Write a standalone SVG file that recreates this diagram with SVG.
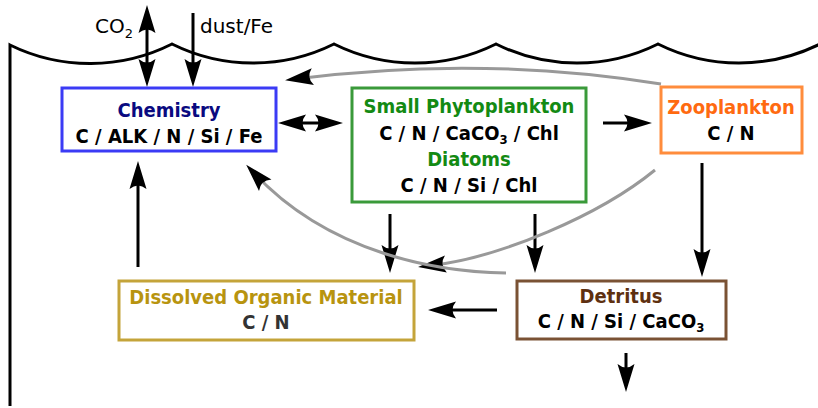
<svg xmlns="http://www.w3.org/2000/svg" width="818" height="408" viewBox="0 0 818 408">
<style>
.box{fill:#fff;stroke-width:3}
.t{font-family:"DejaVu Sans Condensed","DejaVu Sans",sans-serif;font-stretch:condensed;font-weight:bold;font-size:20px;text-anchor:middle}
.lab{font-family:"DejaVu Sans",Verdana,sans-serif;font-size:20px;fill:#000}
.arr{fill:none;stroke:#000;stroke-width:3;marker-end:url(#ah)}
.dbl{marker-start:url(#ah)}
.gr{fill:none;stroke:#999;stroke-width:3;marker-end:url(#ah)}
</style>
<defs>
<marker id="ah" markerUnits="userSpaceOnUse" orient="auto-start-reverse" refX="0" refY="0" markerWidth="40" markerHeight="20" overflow="visible">
<path d="M10,0 L-18,-8.5 Q-11,0 -18,8.5 Z" fill="#000"/>
</marker>
<linearGradient id="fade" x1="0" x2="1" y1="0" y2="0">
<stop offset="0" stop-color="#aaa"/>
<stop offset="1" stop-color="#fff"/>
</linearGradient>
</defs>

<g id="ocean">
<path d="M10,406 L10,45 A182,182 0 0 0 172,44 A182,182 0 0 0 334,44 A182,182 0 0 0 496,44 A182,182 0 0 0 658,44 A182,182 0 0 0 820,44" fill="none" stroke="#000" stroke-width="3"/>
<line x1="11" y1="406.5" x2="150" y2="406.5" stroke="url(#fade)" stroke-width="2"/>
<text class="lab" x="95" y="33">CO<tspan font-size="13" dy="5">2</tspan></text>
<text class="lab" x="200" y="33">dust/Fe</text>
</g>

<g id="connectors">
<line class="arr dbl" x1="147" y1="15" x2="147" y2="77"/>
<line class="arr" x1="193" y1="13" x2="193" y2="77"/>
<line class="arr dbl" x1="288" y1="123" x2="333" y2="123"/>
<line class="arr" x1="603" y1="123" x2="642" y2="123"/>
<line class="arr" x1="702" y1="163" x2="702" y2="267"/>
<line class="arr" x1="390" y1="214" x2="390" y2="263"/>
<line class="arr" x1="535" y1="214" x2="535" y2="263"/>
<line class="arr" x1="497" y1="310" x2="438" y2="310"/>
<line class="arr" x1="626" y1="353" x2="626" y2="382"/>
<line class="arr" x1="138" y1="267" x2="138" y2="171"/>
<path class="gr" d="M661,84 Q480,55 295,79"/>
<path class="gr" d="M655,170 C600,215 500,258 428,266"/>
<path class="gr" d="M506,273 C440,272 330,255 253,172"/>
</g>

<g id="chemistry">
<rect class="box" x="62" y="88" width="214" height="63" stroke="#3b3bf5"/>
<text class="t" x="169" y="117" fill="#0a0a80">Chemistry</text>
<text class="t" x="169" y="143" fill="#000">C / ALK / N / Si / Fe</text>
</g>

<g id="phytoplankton">
<rect class="box" x="352" y="88" width="234" height="114" stroke="#3a9a3a"/>
<text class="t" x="469" y="113" fill="#138a13">Small Phytoplankton</text>
<text class="t" x="469" y="140" fill="#000">C / N / CaCO<tspan font-size="13" dy="4">3</tspan><tspan dy="-4"> / Chl</tspan></text>
<text class="t" x="469" y="166" fill="#138a13">Diatoms</text>
<text class="t" x="469" y="192" fill="#000">C / N / Si / Chl</text>
</g>

<g id="zooplankton">
<rect class="box" x="661" y="87" width="141" height="66" stroke="#ff8c3c"/>
<text class="t" x="731" y="114" fill="#ff6a10">Zooplankton</text>
<text class="t" x="731" y="140" fill="#000">C / N</text>
</g>

<g id="dom">
<rect class="box" x="119" y="281" width="295" height="59" stroke="#c4a43a"/>
<text class="t" x="266" y="304" fill="#b8940f">Dissolved Organic Material</text>
<text class="t" x="266" y="329" fill="#333">C / N</text>
</g>

<g id="detritus">
<rect class="box" x="517" y="281" width="209" height="58" stroke="#7a5234"/>
<text class="t" x="621" y="303" fill="#5e3010">Detritus</text>
<text class="t" x="621" y="328" fill="#000">C / N / Si / CaCO<tspan font-size="13" dy="4">3</tspan></text>
</g>
</svg>
